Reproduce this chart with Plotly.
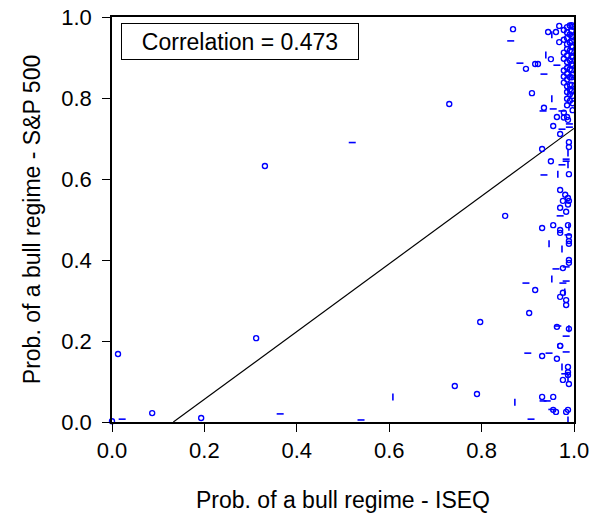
import plotly.graph_objects as go

# ---- data ----
circle_x = [0.013, 0.000, 0.087, 0.193, 0.312, 0.331, 0.730, 0.797, 0.742, 0.790, 0.851,
            0.868, 0.944, 0.961, 0.968, 0.968, 0.916, 0.922, 0.950, 0.896, 0.909,
            0.995, 0.995, 0.995, 0.995, 0.995, 0.995, 0.995, 0.995, 0.995, 0.995, 0.995, 0.995,
            0.985, 0.985, 0.985, 0.985, 0.985, 0.985, 0.985, 0.985, 0.985, 0.985, 0.985, 0.985, 0.985, 0.985,
            0.978, 0.978, 0.978, 0.978, 0.978, 0.978, 0.978, 0.978, 0.978,
            0.991, 0.991, 0.991, 0.991, 0.991, 0.991, 0.991, 0.991, 0.991, 0.991, 0.991,
            0.997, 0.997, 0.997, 0.997, 0.997, 0.997, 0.997, 0.997, 0.997,
            0.935, 0.963, 0.955, 0.970, 0.989, 0.931, 0.989, 0.950, 0.989, 0.989,
            0.985, 0.987, 0.970, 0.981, 0.987, 0.976, 0.987,
            0.970, 0.983, 0.987, 0.955, 0.931, 0.970, 0.970, 0.989, 0.989, 0.989, 0.989, 0.989,
            0.916, 0.976, 0.983, 0.970, 0.983,
            0.903, 0.976, 0.963, 0.989, 0.970, 0.970, 0.931, 0.963, 0.987, 0.987, 0.987,
            0.976, 0.989, 0.931, 0.955, 0.983, 0.987, 0.955, 0.961]
circle_y = [0.168, 0.002, 0.022, 0.010, 0.207, 0.632, 0.785, 0.247, 0.089, 0.069, 0.509,
            0.970, 0.963, 0.963, 0.978, 0.938, 0.884, 0.884, 0.896, 0.872, 0.812,
            0.980, 0.966, 0.953, 0.941, 0.928, 0.915, 0.903, 0.884, 0.869, 0.851, 0.832, 0.818,
            0.975, 0.962, 0.948, 0.933, 0.921, 0.905, 0.889, 0.874, 0.860, 0.846, 0.829, 0.815, 0.798, 0.782, 0.764, 0.752,
            0.968, 0.944, 0.912, 0.897, 0.868, 0.853, 0.838, 0.821, 0.793,
            0.979, 0.957, 0.937, 0.917, 0.893, 0.871, 0.852, 0.833, 0.809, 0.787, 0.770,
            0.976, 0.951, 0.926, 0.900, 0.880, 0.857, 0.805, 0.776, 0.753,
            0.731, 0.711, 0.691, 0.674, 0.679, 0.644, 0.612, 0.546, 0.753, 0.746,
            0.573, 0.561, 0.553, 0.546, 0.537, 0.529, 0.519,
            0.486, 0.486, 0.479, 0.474, 0.467, 0.459, 0.447, 0.440, 0.400, 0.393, 0.326, 0.319,
            0.301, 0.309, 0.289, 0.269, 0.380,
            0.235, 0.230, 0.188, 0.188, 0.163, 0.156, 0.136, 0.116, 0.123, 0.104, 0.094,
            0.062, 0.062, 0.025, 0.030, 0.030, 0.025, 0.005, 0.030]

hdash_x = [0.022, 0.364, 0.520, 0.539,
           0.863, 0.883, 0.963, 0.935, 0.955, 0.933, 0.974,
           0.974, 0.983, 0.983, 0.974, 0.935, 0.970, 0.990, 0.990,
           0.987, 0.983, 0.961, 0.896, 0.976, 0.983,
           0.965, 0.983, 0.983, 0.900, 0.946, 0.980, 0.933, 0.942, 0.907, 0.952]
hdash_y = [0.007, 0.020, 0.690, 0.005,
           0.941, 0.886, 0.881, 0.859, 0.773, 0.768, 0.768,
           0.723, 0.649, 0.644, 0.635, 0.610, 0.509, 0.736, 0.728,
           0.462, 0.383, 0.378, 0.343, 0.343, 0.348,
           0.237, 0.212, 0.173, 0.170, 0.170, 0.119, 0.052, 0.052, 0.007, 0.031]

vdash_x = [0.608, 0.952, 0.939, 0.952, 0.987, 0.987, 0.965,
           0.946, 0.974, 0.952, 0.980, 0.989,
           0.989, 0.974, 0.872, 0.987, 0.987]
vdash_y = [0.062, 0.956, 0.906, 0.798, 0.664, 0.635, 0.612,
           0.440, 0.427, 0.353, 0.321, 0.481,
           0.230, 0.136, 0.049, 0.005, 0.110]

reg_intercept = -0.111
reg_slope = 0.836
correlation_label = "Correlation = 0.473"
x_title = "Prob. of a bull regime - ISEQ"
y_title = "Prob. of a bull regime - S&P 500"
tick_vals = [0.0, 0.2, 0.4, 0.6, 0.8, 1.0]
tick_text = ["0.0", "0.2", "0.4", "0.6", "0.8", "1.0"]

# ---- figure ----
BLUE = "#0000FF"
FONT = "Liberation Sans, Arial, sans-serif"
FS_TICK = 22
FS_TEXT = 23

x0 = -reg_intercept / reg_slope
line_x = [x0, 1.0]
line_y = [reg_intercept + reg_slope * v for v in line_x]

fig = go.Figure()
fig.add_trace(go.Scatter(x=line_x, y=line_y, mode="lines",
                         line=dict(color="black", width=1.2), hoverinfo="skip"))
fig.add_trace(go.Scatter(x=circle_x, y=circle_y, mode="markers", cliponaxis=False,
                         marker=dict(symbol="circle-open", size=5, color=BLUE,
                                     line=dict(color=BLUE, width=1.4))))
fig.add_trace(go.Scatter(x=hdash_x, y=hdash_y, mode="markers", cliponaxis=False,
                         marker=dict(symbol="line-ew", size=5,
                                     line=dict(color=BLUE, width=1.6))))
fig.add_trace(go.Scatter(x=vdash_x, y=vdash_y, mode="markers", cliponaxis=False,
                         marker=dict(symbol="line-ns", size=5,
                                     line=dict(color=BLUE, width=1.6))))

axis_common = dict(
    range=[0, 1], tickmode="array", tickvals=tick_vals, ticktext=tick_text,
    ticks="outside", ticklen=8, tickwidth=1, tickcolor="black",
    showline=True, linecolor="black", linewidth=1.5, mirror=True,
    showgrid=False, zeroline=False, automargin=False,
    tickfont=dict(family=FONT, size=FS_TICK, color="black"),
)

fig.update_layout(
    width=590, height=516,
    margin=dict(l=112, r=16, t=17, b=94),
    paper_bgcolor="white", plot_bgcolor="white",
    showlegend=False,
    font=dict(family=FONT, color="black"),
    xaxis=dict(**axis_common,
               title=dict(text=x_title, font=dict(family=FONT, size=FS_TEXT), standoff=30)),
    yaxis=dict(**axis_common, ticklabelstandoff=6,
               title=dict(text=y_title, font=dict(family=FONT, size=FS_TEXT), standoff=14)),
    annotations=[dict(
        text=correlation_label, xref="paper", yref="paper",
        x=(240 - 112) / 462, y=(422 - 41.5) / 405, xanchor="center", yanchor="middle",
        showarrow=False, font=dict(family=FONT, size=FS_TEXT, color="black"),
        bordercolor="black", borderwidth=1, borderpad=0, width=236, height=35,
        bgcolor="white",
    )],
)

fig.write_html("out.html", config={"displayModeBar": False},
               post_script="document.body.style.margin='0';")
